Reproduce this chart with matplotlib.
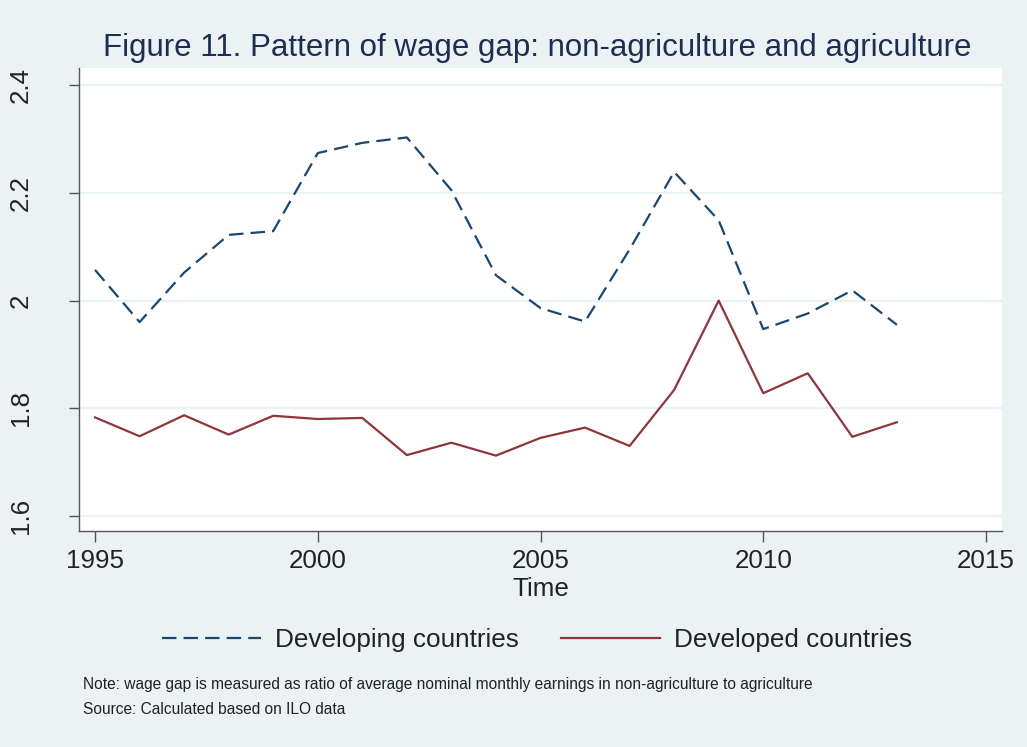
import matplotlib
matplotlib.use("Agg")
import matplotlib.pyplot as plt

plt.rcParams['font.family'] = ['Liberation Sans', 'DejaVu Sans']

years = list(range(1995, 2014))
developing = [2.057, 1.960, 2.052, 2.122, 2.129, 2.274, 2.293, 2.303, 2.205, 2.047,
              1.986, 1.961, 2.095, 2.239, 2.149, 1.947, 1.976, 2.019, 1.955]
developed = [1.783, 1.748, 1.787, 1.751, 1.786, 1.780, 1.782, 1.713, 1.736, 1.712,
             1.745, 1.764, 1.730, 1.834, 2.000, 1.828, 1.865, 1.747, 1.774]
xticks = [1995, 2000, 2005, 2010, 2015]
yticks = [1.6, 1.8, 2.0, 2.2, 2.4]
ytick_labels = ["1.6", "1.8", "2", "2.2", "2.4"]

BG = '#eaf2f3'
NAVY = '#1a476f'
MAROON = '#90353b'
TXT = '#222222'

fig = plt.figure(figsize=(10.27, 7.47), dpi=100)
fig.patch.set_facecolor(BG)
ax = fig.add_axes([79/1027, 1-531/747, (1002-79)/1027, (531-68)/747])
ax.set_facecolor('white')

ax.plot(years, developing, color=NAVY, lw=1.6, dashes=(6.5, 3.2), label='Developing countries')
ax.plot(years, developed, color=MAROON, lw=1.6, label='Developed countries')

ax.set_xlim(1994.64, 2015.36)
ax.set_ylim(1.572, 2.432)
ax.set_xticks(xticks)
ax.set_yticks(yticks)
ax.set_yticklabels(ytick_labels, rotation=90, va='center')
ax.grid(axis='y', color=BG, lw=1.6)
ax.set_axisbelow(True)
for s in ['top', 'right']:
    ax.spines[s].set_visible(False)
for s in ['left', 'bottom']:
    ax.spines[s].set_color('#555555')
    ax.spines[s].set_linewidth(1.0)
ax.tick_params(axis='both', colors='#555555', labelcolor=TXT, labelsize=18.7, length=7, width=1.0)
ax.tick_params(axis='x', pad=5, length=8)
ax.tick_params(axis='y', pad=26)
ax.set_xlabel('Time', fontsize=18.7, color=TXT, labelpad=3)

fig.text(537/1027, 1-48/747, 'Figure 11. Pattern of wage gap: non-agriculture and agriculture',
         ha='center', va='center', fontsize=22.5, color='#1e2d52')

handles, labels = ax.get_legend_handles_labels()
fig.legend(handles, labels, loc='center', bbox_to_anchor=(537/1027, 1-640/747), ncol=2,
           frameon=False, fontsize=18.8, handlelength=3.8, handletextpad=0.55,
           columnspacing=1.6, labelcolor=TXT)

fig.text(83/1027, 1-685/747,
         'Note: wage gap is measured as ratio of average nominal monthly earnings in non-agriculture to agriculture',
         ha='left', va='center', fontsize=11.2, color=TXT)
fig.text(83/1027, 1-710/747, 'Source: Calculated based on ILO data',
         ha='left', va='center', fontsize=11.2, color=TXT)

fig.savefig('out.png', dpi=100, facecolor=BG)
